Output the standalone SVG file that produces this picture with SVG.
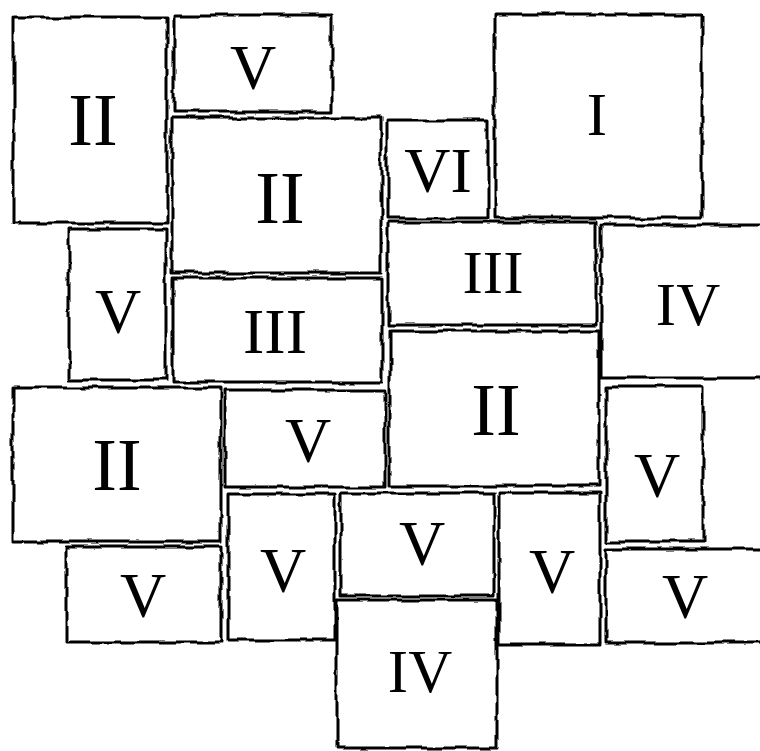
<svg xmlns="http://www.w3.org/2000/svg" width="760" height="751" viewBox="0 0 760 751">
<style>
.stone{fill:none;stroke:#000;stroke-width:3;stroke-linejoin:round;filter:url(#rough)}
.lbl{font-family:"Liberation Serif","Times New Roman",serif;fill:#000;text-anchor:middle;font-size:64px}
.big{font-size:74px}
.mid{font-size:61px}
</style>
<defs>
<filter id="rough" filterUnits="userSpaceOnUse" x="-20" y="-20" width="800" height="791">
<feTurbulence type="fractalNoise" baseFrequency="0.04" numOctaves="2" seed="3" result="n"/>
<feDisplacementMap in="SourceGraphic" in2="n" scale="6" xChannelSelector="R" yChannelSelector="G"/>
</filter>
</defs>
<rect width="760" height="751" fill="#fff"/>
<g id="s1"><rect class="stone" x="14" y="17" width="153" height="206"/><text class="lbl big" x="93" y="145">II</text></g>
<g id="s2"><rect class="stone" x="174" y="15" width="158" height="97"/><text class="lbl" x="253" y="89">V</text></g>
<g id="s3"><rect class="stone" x="172" y="118" width="209" height="155"/><text class="lbl big" x="280" y="223">II</text></g>
<g id="s4"><rect class="stone" x="387" y="120" width="101" height="98"/><text class="lbl" x="438" y="192">VI</text></g>
<g id="s5"><rect class="stone" x="495" y="15" width="207" height="203"/><text class="lbl mid" x="597" y="135">I</text></g>
<g id="s6"><rect class="stone" x="69" y="229" width="97" height="151"/><text class="lbl" x="118" y="333">V</text></g>
<g id="s7"><rect class="stone" x="173" y="278" width="209" height="104"/><text class="lbl" x="275" y="353">III</text></g>
<g id="s8"><rect class="stone" x="388" y="222" width="208" height="103"/><text class="lbl mid" x="493" y="293">III</text></g>
<g id="s9"><rect class="stone" x="601" y="225" width="170" height="153"/><text class="lbl mid" x="688" y="325">IV</text></g>
<g id="s10"><rect class="stone" x="13" y="388" width="208" height="154"/><text class="lbl big" x="117" y="490">II</text></g>
<g id="s11"><rect class="stone" x="225" y="390" width="161" height="97"/><text class="lbl" x="308" y="462">V</text></g>
<g id="s12"><rect class="stone" x="390" y="331" width="209" height="155"/><text class="lbl big" x="496" y="435">II</text></g>
<g id="s13"><rect class="stone" x="606" y="387" width="97" height="155"/><text class="lbl" x="657" y="497">V</text></g>
<g id="s14"><rect class="stone" x="66" y="547" width="155" height="95"/><text class="lbl" x="143" y="617">V</text></g>
<g id="s15"><rect class="stone" x="228" y="494" width="107" height="146"/><text class="lbl" x="283" y="592">V</text></g>
<g id="s16"><rect class="stone" x="341" y="493" width="153" height="103"/><text class="lbl" x="422" y="565">V</text></g>
<g id="s17"><rect class="stone" x="499" y="493" width="101" height="152"/><text class="lbl" x="552" y="593">V</text></g>
<g id="s18"><rect class="stone" x="606" y="549" width="165" height="94"/><text class="lbl" x="685" y="618">V</text></g>
<g id="s19"><rect class="stone" x="337" y="600" width="160" height="148"/><text class="lbl mid" x="420" y="692">IV</text></g>
<g id="connectors"></g>
</svg>
